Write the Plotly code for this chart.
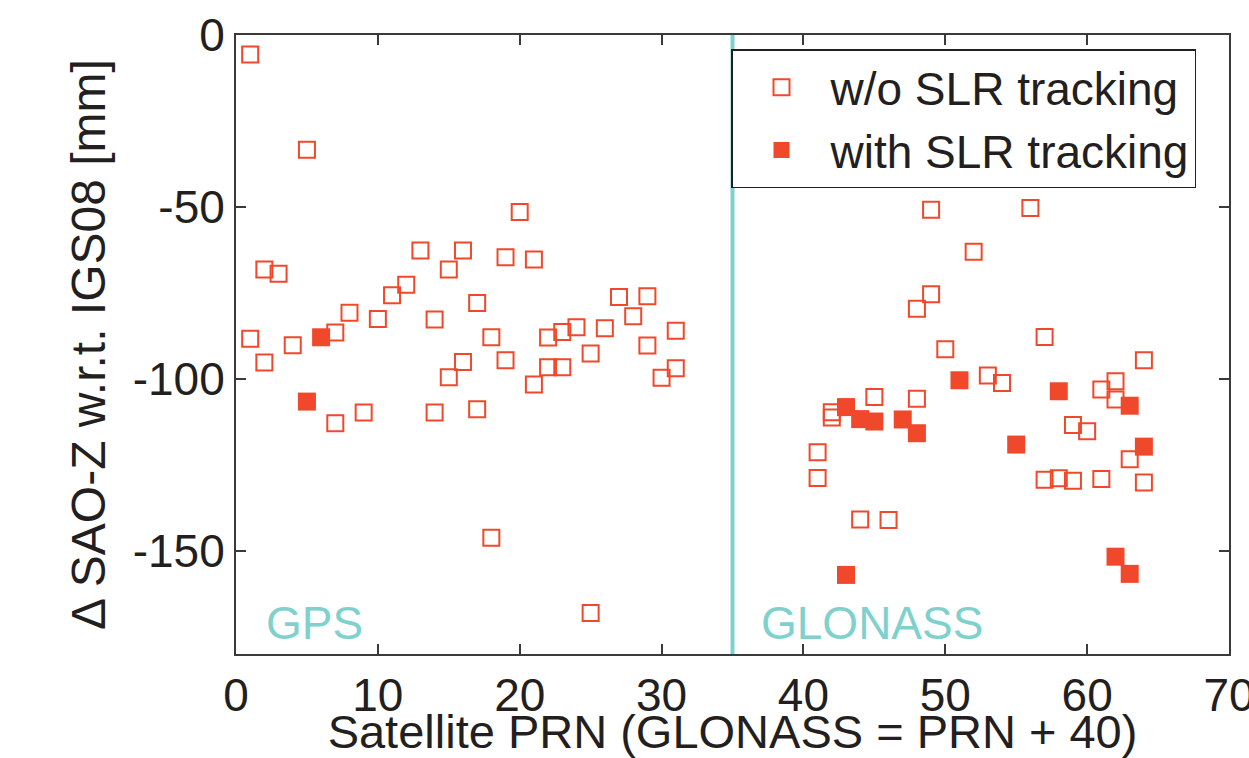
import plotly.graph_objects as go

# GPS satellites (PRN) without SLR tracking
gps_open_prn = [1, 5, 2, 3, 13, 16, 15, 12, 11, 8, 10, 14, 17, 1, 4, 7, 2, 16, 15, 7, 9, 14, 17, 18, 18,
                20, 19, 21, 19, 22, 23, 24, 26, 27, 29, 28, 31, 25, 29, 22, 23, 21, 31, 30, 25]
gps_open_val = [-5.7, -33.4, -68.2, -69.4, -62.7, -62.7, -68.2, -72.6, -75.7, -80.8, -82.6, -82.7, -77.9,
                -88.3, -90.2, -86.5, -95.2, -95.1, -99.5, -112.9, -109.8, -109.8, -108.8, -146.2, -87.9,
                -51.5, -64.6, -65.3, -94.6, -88.0, -86.4, -85.0, -85.3, -76.2, -76.0, -81.8, -86.0, -92.6,
                -90.3, -96.6, -96.6, -101.6, -96.9, -99.7, -168.1]
# GPS satellites with SLR tracking
gps_slr_prn = [6, 5]
gps_slr_val = [-87.9, -106.6]

# GLONASS satellites (PRN + 40) without SLR tracking
glo_open_prn = [49, 56, 52, 49, 48, 50, 57, 64, 53, 54, 61, 62, 62, 42, 42, 45, 48, 59, 60, 63, 41, 41,
                57, 58, 59, 61, 64, 44, 46]
glo_open_val = [-50.8, -50.3, -63.0, -75.4, -79.6, -91.4, -87.8, -94.6, -99.0, -101.2, -103.1, -100.7,
                -106.0, -109.7, -111.2, -105.3, -105.8, -113.4, -115.2, -123.4, -121.3, -128.8, -129.3,
                -128.9, -129.6, -129.1, -130.1, -140.9, -141.0]
# GLONASS satellites with SLR tracking
glo_slr_prn = [51, 58, 63, 43, 44, 45, 47, 48, 55, 64, 43, 62, 63]
glo_slr_val = [-100.4, -103.6, -107.8, -108.2, -111.7, -112.4, -111.8, -115.8, -119.1, -119.7, -157.0,
               -151.7, -156.7]

separator_prn = 35
x_ticks = [0, 10, 20, 30, 40, 50, 60, 70]
x_tick_labels = ["0", "10", "20", "30", "40", "50", "60", "70"]
y_ticks = [0, -50, -100, -150]
y_tick_labels = ["0", "-50", "-100", "-150"]

mark_color = "#f0482a"
teal = "#7fd1cd"
text_color = "#231f20"
font_family = "Liberation Sans, Arial, sans-serif"

fig = go.Figure()
fig.add_trace(go.Scatter(
    x=gps_open_prn + glo_open_prn, y=gps_open_val + glo_open_val,
    mode="markers", name="w/o SLR tracking",
    marker=dict(symbol="square-open", size=16, color=mark_color, line=dict(width=2, color=mark_color)),
))
fig.add_trace(go.Scatter(
    x=gps_slr_prn + glo_slr_prn, y=gps_slr_val + glo_slr_val,
    mode="markers", name="with SLR tracking",
    marker=dict(symbol="square", size=18, color=mark_color, line=dict(width=0)),
))

fig.add_shape(type="line", xref="x", yref="paper", x0=separator_prn, x1=separator_prn, y0=0, y1=1,
              line=dict(color=teal, width=4), layer="below")

fig.add_annotation(x=1.95, y=-171, xref="x", yref="y", text="GPS", showarrow=False,
                   xanchor="left", yanchor="middle", font=dict(size=46, color=teal, family=font_family))
fig.add_annotation(x=36.85, y=-171, xref="x", yref="y", text="GLONASS", showarrow=False,
                   xanchor="left", yanchor="middle", font=dict(size=46, color=teal, family=font_family))

axis_common = dict(
    showline=True, linecolor="#3a3a3a", linewidth=2, mirror="ticks",
    ticks="inside", ticklen=10, tickwidth=1.5, tickcolor="#3a3a3a",
    showgrid=False, zeroline=False, ticklabeloverflow="allow",
    tickfont=dict(size=46, color=text_color, family=font_family),
)

fig.update_xaxes(range=[0, 70], tickmode="array", tickvals=x_ticks, ticktext=x_tick_labels, **axis_common,
                 title=dict(text="Satellite PRN (GLONASS = PRN + 40)",
                            font=dict(size=47, color=text_color, family=font_family), standoff=0))
fig.update_yaxes(range=[-180, 0], tickmode="array", tickvals=y_ticks, ticktext=y_tick_labels, **axis_common,
                 title=dict(text="Δ SAO-Z w.r.t. IGS08 [mm]",
                            font=dict(size=48, color=text_color, family=font_family), standoff=12))

fig.update_layout(
    width=1249, height=758,
    margin=dict(l=236, r=20, t=35, b=104, autoexpand=False),
    paper_bgcolor="white", plot_bgcolor="white",
    font=dict(family=font_family, color=text_color),
    showlegend=True,
    legend=dict(x=0.4985, y=0.977, xanchor="left", yanchor="top",
                bgcolor="white", bordercolor=text_color, borderwidth=1.5,
                font=dict(size=46, color=text_color, family=font_family),
                itemwidth=88),
)

fig.write_html("out.html")
